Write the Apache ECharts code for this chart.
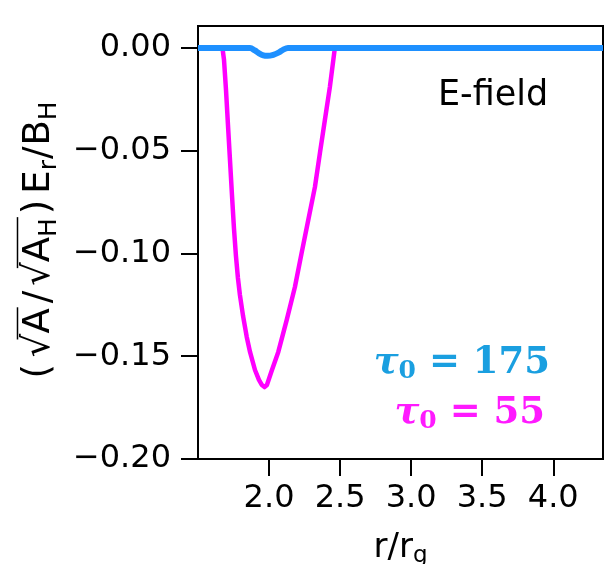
<!DOCTYPE html>
<html>
<head>
<meta charset="utf-8">
<script src="https://cdn.jsdelivr.net/npm/echarts@6/dist/echarts.min.js"></script>
<style>
  html, body { margin: 0; padding: 0; background: #fff; }
  #chart { width: 606px; height: 564px; }
</style>
</head>
<body>
<div id="chart"></div>
<script>
// r/rg 和 电场值
var rTau55 = [1.50, 1.60, 1.672, 1.683, 1.697, 1.711, 1.725, 1.739, 1.753, 1.767, 1.781, 1.795, 1.817, 1.843, 1.866, 1.901, 1.929, 1.950, 1.968, 1.985, 2.018, 2.065, 2.124, 2.182, 2.229, 2.276, 2.323, 2.358, 2.393, 2.428, 2.463, 3.00, 3.50, 4.00, 4.35];
var eTau55 = [0, 0, 0, -0.0058, -0.0204, -0.0375, -0.0545, -0.0715, -0.0876, -0.1012, -0.1119, -0.1202, -0.1304, -0.1406, -0.1479, -0.1567, -0.1615, -0.1640, -0.1650, -0.1640, -0.1572, -0.1479, -0.1324, -0.1163, -0.0998, -0.0837, -0.0676, -0.0511, -0.0350, -0.0190, 0, 0, 0, 0, 0];

var rTau175 = [1.50, 1.70, 1.866, 1.90, 1.93, 1.96, 1.99, 2.03, 2.07, 2.10, 2.133, 2.50, 3.00, 3.50, 4.00, 4.35];
var eTau175 = [0, 0, 0, -0.0012, -0.0026, -0.0036, -0.0038, -0.0033, -0.0021, -0.0008, 0, 0, 0, 0, 0, 0];

var xTicks = [2.0, 2.5, 3.0, 3.5, 4.0];
var yTicks = [-0.20, -0.15, -0.10, -0.05, 0.00];

function pairs(xs, ys) {
  return xs.map(function (x, i) { return [x, ys[i]]; });
}

// y轴标题: 手动排版, 以便在根号上画横线
var FONT = '"DejaVu Sans"';
var mainSize = 37, subSize = 25;
var yLabelParts = [
  { t: '(', s: mainSize, after: 7 },
  { t: '√', s: mainSize, barStart: true },
  { t: 'A', s: mainSize, barEnd: true, after: 5 },
  { t: '/', s: mainSize, after: 5 },
  { t: '√', s: mainSize, barStart: true },
  { t: 'A', s: mainSize },
  { t: 'H', s: subSize, sub: true, barEnd: true, after: 4 },
  { t: ')', s: mainSize, after: 6 },
  { t: 'E', s: mainSize },
  { t: 'r', s: subSize, sub: true, after: 1 },
  { t: '/', s: mainSize, after: 1 },
  { t: 'B', s: mainSize },
  { t: 'H', s: subSize, sub: true }
];

function buildYLabel(cx, cy) {
  var ctx = document.createElement('canvas').getContext('2d');
  var total = 0;
  yLabelParts.forEach(function (p) {
    ctx.font = p.s + 'px ' + FONT;
    p.w = ctx.measureText(p.t).width;
    total += p.w + (p.after || 0);
  });
  var x = -total / 2;
  var kids = [];
  var barX0 = 0;
  yLabelParts.forEach(function (p) {
    kids.push({
      type: 'text',
      x: x, y: p.sub ? 10 : 0,
      style: { text: p.t, font: p.s + 'px ' + FONT, fill: '#000', verticalAlign: 'middle' }
    });
    if (p.barStart) barX0 = x + p.w * 0.75;
    if (p.barEnd) {
      kids.push({
        type: 'line',
        shape: { x1: barX0, y1: -21.5, x2: x + p.w + 1, y2: -21.5 },
        style: { stroke: '#000', lineWidth: 1.5 }
      });
    }
    x += p.w + (p.after || 0);
  });
  return { type: 'group', x: cx, y: cy, rotation: Math.PI / 2, children: kids };
}

var chart = echarts.init(document.getElementById('chart'));

var option = {
  animation: false,
  textStyle: { fontFamily: 'DejaVu Sans' },
  grid: {
    left: 198, right: 3, top: 26, bottom: 105,
    outerBoundsMode: 'none',
    containLabel: false,
    show: true, borderColor: '#000', borderWidth: 2
  },
  xAxis: {
    type: 'value',
    min: 1.5, max: 4.35, interval: 0.5,
    name: '{m|r/r}{sub|g}',
    nameLocation: 'middle',
    nameGap: 70,
    nameTextStyle: {
      rich: {
        m: { fontSize: 34, color: '#000', fontFamily: 'DejaVu Sans' },
        sub: { fontSize: 23, color: '#000', fontFamily: 'DejaVu Sans', verticalAlign: 'bottom', padding: [16, 0, 0, 0] }
      }
    },
    splitLine: { show: false },
    axisLine: { show: true, onZero: false, lineStyle: { color: '#000', width: 2 } },
    axisTick: { show: true, length: 17, customValues: xTicks, lineStyle: { color: '#000', width: 2 } },
    axisLabel: {
      customValues: xTicks,
      margin: 24, fontSize: 32, color: '#000', fontFamily: 'DejaVu Sans',
      formatter: function (v) { return v.toFixed(1); }
    }
  },
  yAxis: {
    type: 'value',
    min: -0.2, max: 0.0107, interval: 0.05,
    splitLine: { show: false },
    axisLine: { show: true, onZero: false, lineStyle: { color: '#000', width: 2 } },
    axisTick: { show: true, length: 17, customValues: yTicks, lineStyle: { color: '#000', width: 2 } },
    axisLabel: {
      customValues: yTicks,
      margin: 27, fontSize: 32, color: '#000', fontFamily: 'DejaVu Sans',
      formatter: function (v) {
        var s = Math.abs(v).toFixed(2);
        return (v < -1e-9 ? '\u2212' : '') + s;
      }
    }
  },
  series: [
    {
      name: 'tau0=55',
      type: 'line',
      data: pairs(rTau55, eTau55),
      showSymbol: false,
      lineStyle: { color: '#ff00ff', width: 4.5, join: 'round' },
      z: 2
    },
    {
      name: 'tau0=175',
      type: 'line',
      data: pairs(rTau175, eTau175),
      smooth: 0.3,
      showSymbol: false,
      lineStyle: { color: '#1e90ff', width: 6 },
      z: 3
    }
  ],
  graphic: [
    buildYLabel(39, 240),
    {
      type: 'text', left: 438, top: 78,
      style: { text: 'E-field', font: '35px "DejaVu Sans"', fill: '#000' }
    },
    {
      type: 'text', right: 56, top: 345,
      style: {
        text: '{t|τ}{s|0}{n| = 175}',
        rich: {
          t: { font: 'italic bold 37px "DejaVu Serif"', fill: '#1a9fe0' },
          s: { font: 'bold 25px "DejaVu Serif"', fill: '#1a9fe0', verticalAlign: 'bottom', padding: [16, 0, 0, 0] },
          n: { font: 'bold 37px "DejaVu Serif"', fill: '#1a9fe0' }
        }
      }
    },
    {
      type: 'text', right: 61, top: 395,
      style: {
        text: '{t|τ}{s|0}{n| = 55}',
        rich: {
          t: { font: 'italic bold 37px "DejaVu Serif"', fill: '#ff1aff' },
          s: { font: 'bold 25px "DejaVu Serif"', fill: '#ff1aff', verticalAlign: 'bottom', padding: [16, 0, 0, 0] },
          n: { font: 'bold 37px "DejaVu Serif"', fill: '#ff1aff' }
        }
      }
    }
  ]
};

chart.setOption(option);
</script>
</body>
</html>
